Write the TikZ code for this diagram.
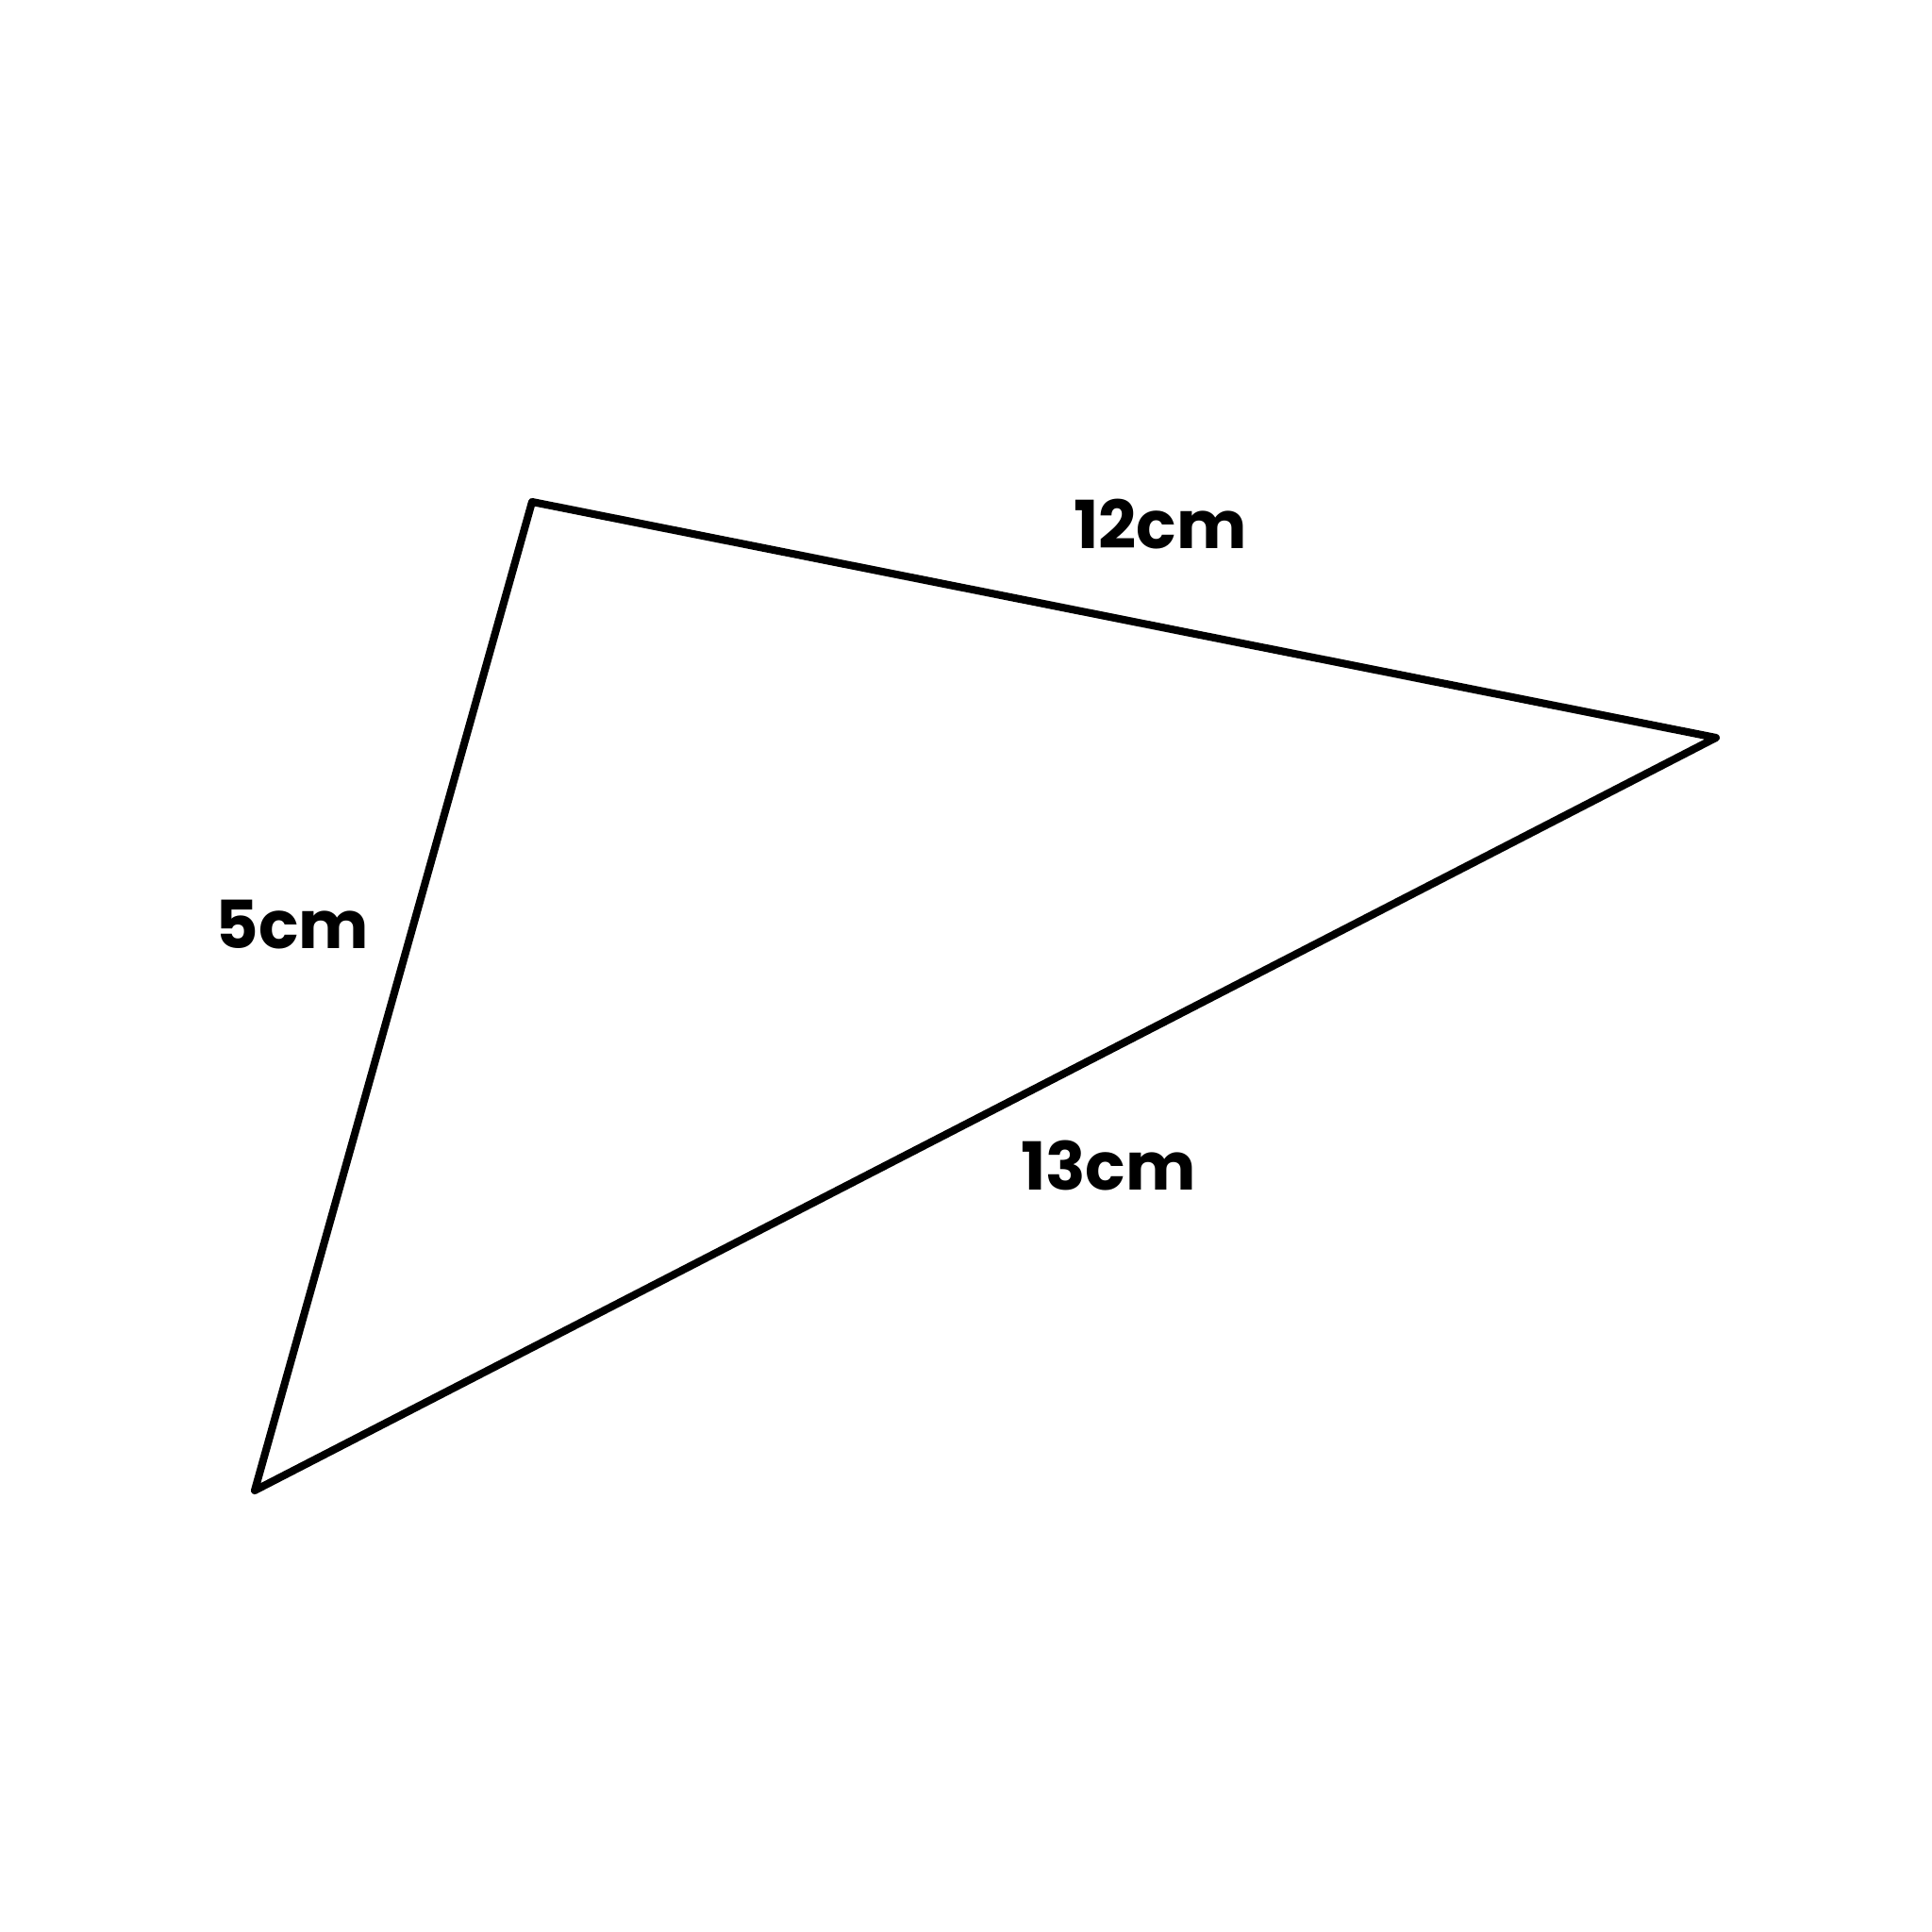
\documentclass[tikz,border=0pt]{standalone}
\usepackage{fontspec}
\setmainfont{Poppins}
\begin{document}
\begin{tikzpicture}
\useasboundingbox (0,0) rectangle (20.48,20.48);
\tikzset{edge/.style={line width=2.3pt,line join=round,line cap=round},
  lab/.style={font=\fontsize{20}{24}\selectfont\bfseries,inner sep=0pt}}
\coordinate (A) at (5.64,15.16);
\coordinate (B) at (18.19,12.66);
\coordinate (C) at (2.70,4.68);
\draw[edge] (A) -- (B) -- (C) -- cycle;
\node[lab] (l12) at (12.30,14.92) {12cm};
\node[lab] (l5) at (3.10,10.68) {5cm};
\node[lab] (l13) at (11.75,8.12) {13cm};
\end{tikzpicture}
\end{document}
